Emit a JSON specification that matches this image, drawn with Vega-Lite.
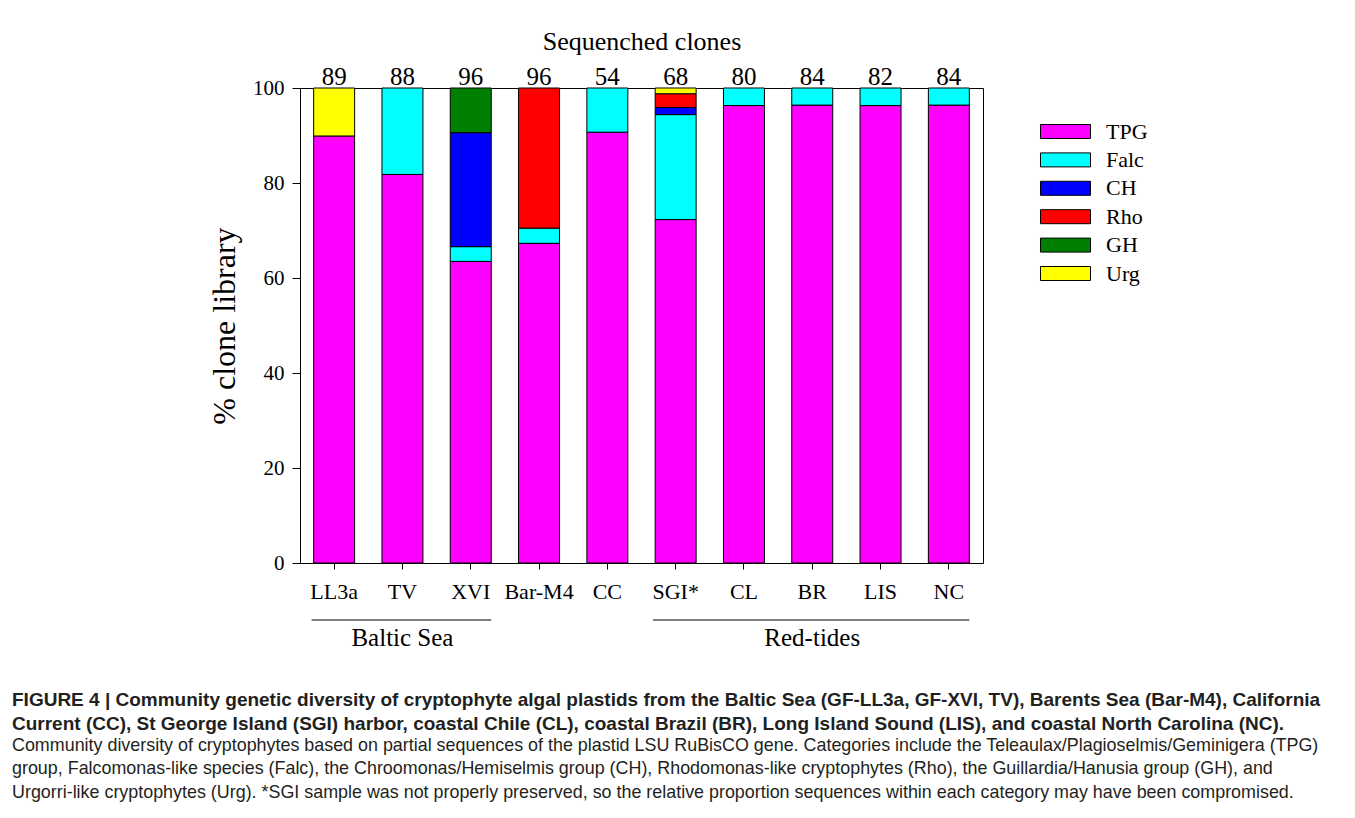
{
  "$schema": "https://vega.github.io/schema/vega-lite/v6.json",
  "width": 683,
  "height": 475,
  "autosize": {"type": "none"},
  "padding": {"left": 300, "top": 88, "right": 372, "bottom": 255},
  "background": "white",
  "config": {
    "view": {"stroke": "black", "strokeWidth": 1},
    "font": "Liberation Serif",
    "axis": {"labelColor": "black", "tickColor": "black", "domainColor": "black", "titleColor": "black", "labelFont": "Liberation Serif", "titleFont": "Liberation Serif", "grid": false}
  },
  "title": {
    "text": [
      "FIGURE 4 | Community genetic diversity of cryptophyte algal plastids from the Baltic Sea (GF-LL3a, GF-XVI, TV), Barents Sea (Bar-M4), California",
      "Current (CC), St George Island (SGI) harbor, coastal Chile (CL), coastal Brazil (BR), Long Island Sound (LIS), and coastal North Carolina (NC)."
    ],
    "subtitle": [
      "Community diversity of cryptophytes based on partial sequences of the plastid LSU RuBisCO gene. Categories include the Teleaulax/Plagioselmis/Geminigera (TPG)",
      "group, Falcomonas-like species (Falc), the Chroomonas/Hemiselmis group (CH), Rhodomonas-like cryptophytes (Rho), the Guillardia/Hanusia group (GH), and",
      "Urgorri-like cryptophytes (Urg). *SGI sample was not properly preserved, so the relative proportion sequences within each category may have been compromised."
    ],
    "orient": "bottom",
    "anchor": "start",
    "frame": "group",
    "align": "left",
    "dx": -288,
    "offset": 40,
    "font": "Liberation Sans",
    "fontSize": 19,
    "fontWeight": "bold",
    "color": "#231f20",
    "lineHeight": 23.5,
    "subtitleFont": "Liberation Sans",
    "subtitleFontSize": 17.9,
    "subtitleColor": "#231f20",
    "subtitleLineHeight": 23.5,
    "subtitlePadding": 3
  },
  "datasets": {
    "comp": [
      {"sample": "LL3a", "category": "TPG", "ord": 1, "value": 89.9},
      {"sample": "LL3a", "category": "Urg", "ord": 6, "value": 10.1},
      {"sample": "TV", "category": "TPG", "ord": 1, "value": 81.8},
      {"sample": "TV", "category": "Falc", "ord": 2, "value": 18.2},
      {"sample": "XVI", "category": "TPG", "ord": 1, "value": 63.5},
      {"sample": "XVI", "category": "Falc", "ord": 2, "value": 3.1},
      {"sample": "XVI", "category": "CH", "ord": 3, "value": 24.0},
      {"sample": "XVI", "category": "GH", "ord": 5, "value": 9.4},
      {"sample": "Bar-M4", "category": "TPG", "ord": 1, "value": 67.3},
      {"sample": "Bar-M4", "category": "Falc", "ord": 2, "value": 3.2},
      {"sample": "Bar-M4", "category": "Rho", "ord": 4, "value": 29.5},
      {"sample": "CC", "category": "TPG", "ord": 1, "value": 90.7},
      {"sample": "CC", "category": "Falc", "ord": 2, "value": 9.3},
      {"sample": "SGI*", "category": "TPG", "ord": 1, "value": 72.3},
      {"sample": "SGI*", "category": "Falc", "ord": 2, "value": 22.1},
      {"sample": "SGI*", "category": "CH", "ord": 3, "value": 1.5},
      {"sample": "SGI*", "category": "Rho", "ord": 4, "value": 2.9},
      {"sample": "SGI*", "category": "Urg", "ord": 6, "value": 1.2},
      {"sample": "CL", "category": "TPG", "ord": 1, "value": 96.3},
      {"sample": "CL", "category": "Falc", "ord": 2, "value": 3.7},
      {"sample": "BR", "category": "TPG", "ord": 1, "value": 96.4},
      {"sample": "BR", "category": "Falc", "ord": 2, "value": 3.6},
      {"sample": "LIS", "category": "TPG", "ord": 1, "value": 96.3},
      {"sample": "LIS", "category": "Falc", "ord": 2, "value": 3.7},
      {"sample": "NC", "category": "TPG", "ord": 1, "value": 96.4},
      {"sample": "NC", "category": "Falc", "ord": 2, "value": 3.6}
    ],
    "counts": [
      {"sample": "LL3a", "n": 89},
      {"sample": "TV", "n": 88},
      {"sample": "XVI", "n": 96},
      {"sample": "Bar-M4", "n": 96},
      {"sample": "CC", "n": 54},
      {"sample": "SGI*", "n": 68},
      {"sample": "CL", "n": 80},
      {"sample": "BR", "n": 84},
      {"sample": "LIS", "n": 82},
      {"sample": "NC", "n": 84}
    ],
    "groups": [
      {"group": "Baltic Sea", "first": "LL3a", "last": "XVI", "mid": "TV"},
      {"group": "Red-tides", "first": "SGI*", "last": "NC", "mid": "BR"}
    ]
  },
  "resolve": {"axis": {"x": "independent", "y": "independent"}},
  "layer": [
    {
      "data": {"name": "comp"},
      "mark": {"type": "bar", "stroke": "black", "strokeWidth": 1},
      "encoding": {
        "x": {
          "field": "sample", "type": "nominal",
          "scale": {"domain": ["LL3a", "TV", "XVI", "Bar-M4", "CC", "SGI*", "CL", "BR", "LIS", "NC"], "paddingInner": 0.4, "paddingOuter": 0.2},
          "axis": {"title": null, "labelAngle": 0, "labelFontSize": 22, "tickSize": 6, "labelPadding": 12, "domain": false}
        },
        "y": {
          "field": "value", "type": "quantitative", "stack": "zero",
          "scale": {"domain": [0, 100], "nice": false},
          "axis": {"title": "% clone library", "titleFontSize": 32, "titleFontWeight": "normal", "titlePadding": 11, "values": [0, 20, 40, 60, 80, 100], "labelFontSize": 21, "tickSize": 8, "labelPadding": 8, "domain": false}
        },
        "color": {
          "field": "category", "type": "nominal",
          "scale": {"domain": ["TPG", "Falc", "CH", "Rho", "GH", "Urg"], "range": ["#ff00ff", "#00ffff", "#0000ff", "#ff0000", "#008000", "#ffff00"]},
          "legend": {
            "title": null, "orient": "none", "legendX": 751, "legendY": 29, "padding": 0,
            "symbolType": "M-1.786,-0.5H1.786V0.5H-1.786Z", "symbolSize": 784,
            "symbolStrokeColor": "black", "symbolStrokeWidth": 1, "symbolOpacity": 1,
            "labelFont": "Liberation Serif", "labelFontSize": 22, "labelColor": "black",
            "labelOffset": 26, "rowPadding": 2.4
          }
        },
        "order": {"field": "ord", "type": "quantitative"}
      }
    },
    {
      "data": {"name": "counts"},
      "mark": {"type": "text", "fontSize": 25, "baseline": "alphabetic", "dy": -3, "color": "black", "font": "Liberation Serif"},
      "encoding": {
        "x": {"field": "sample", "type": "nominal", "axis": {"orient": "top", "title": "Sequenched clones", "titleFontSize": 26, "titleFontWeight": "normal", "titlePadding": 34, "labels": false, "ticks": false, "domain": false}},
        "y": {"datum": 100, "scale": {"domain": [0, 100]}, "axis": null},
        "text": {"field": "n", "type": "quantitative"}
      }
    },
    {
      "data": {"name": "groups"},
      "mark": {"type": "rule", "stroke": "#555", "strokeWidth": 1.5},
      "encoding": {
        "x": {"field": "first", "type": "nominal", "bandPosition": -0.05, "axis": null},
        "x2": {"field": "last", "bandPosition": 1},
        "y": {"datum": -12, "scale": {"domain": [0, 100]}, "axis": null}
      }
    },
    {
      "data": {"name": "groups"},
      "mark": {"type": "text", "fontSize": 25, "baseline": "middle", "color": "black", "font": "Liberation Serif"},
      "encoding": {
        "x": {"field": "mid", "type": "nominal", "axis": null},
        "y": {"datum": -15.8, "scale": {"domain": [0, 100]}, "axis": null},
        "text": {"field": "group", "type": "nominal"}
      }
    }
  ]
}
